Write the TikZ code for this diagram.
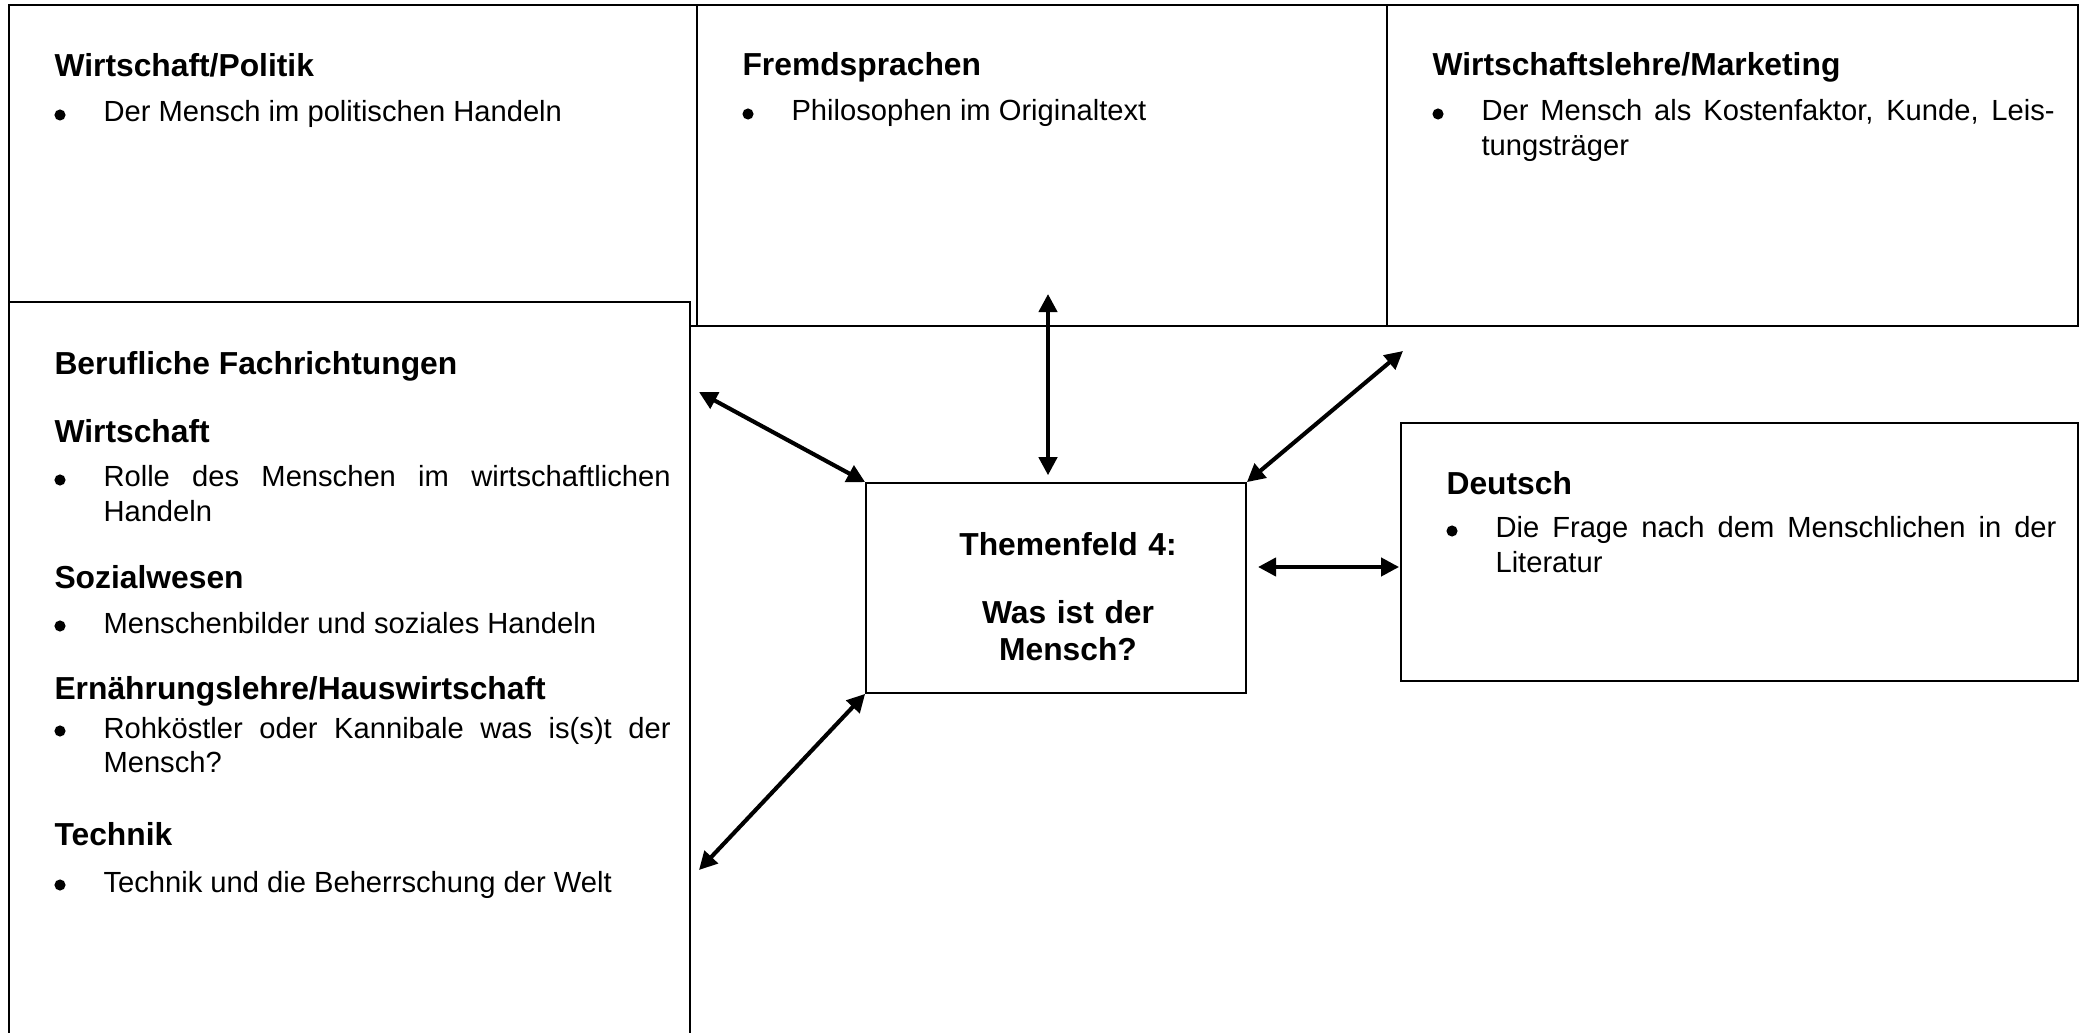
\documentclass[tikz,border=0pt]{standalone}
\usepackage{fontspec}
\setmainfont{Liberation Sans}
\usetikzlibrary{arrows.meta,fit}
\tolerance=10000
\hbadness=10000
\hyphenpenalty=10000
\exhyphenpenalty=10000
\begin{document}
\begin{tikzpicture}[x=0.3774pt,y=-0.3774pt,
  box/.style={draw, line width=0.65pt, inner sep=0pt},
  head/.style={anchor=base west, inner sep=0pt, font=\fontsize{12pt}{14pt}\selectfont\bfseries},
  body/.style={anchor=base west, inner sep=0pt, font=\fontsize{11pt}{13pt}\selectfont},
  bodyj/.style={body, text width=#1, align=justify},
  bul/.style={circle, fill=black, inner sep=0pt, minimum size=4.2pt},
  dbl/.style={line width=1.55pt, {Triangle[length=6.8pt,width=6.8pt]}-{Triangle[length=6.8pt,width=6.8pt]}}
]
\path[use as bounding box] (0,0) rectangle (2080,1033);
\clip (0,0) rectangle (2080,1033);

% top boxes
\coordinate (wp1) at (9,5);     \coordinate (wp2) at (697,326);
\coordinate (fs1) at (697,5);   \coordinate (fs2) at (1387,326);
\coordinate (wl1) at (1387,5);  \coordinate (wl2) at (2078,326);
\node[box, fit=(wp1)(wp2)] (wp) {};
\node[box, fit=(fs1)(fs2)] (fs) {};
\node[box, fit=(wl1)(wl2)] (wl) {};

% Berufliche box (covers bottom of Wirtschaft/Politik)
\coordinate (bf1) at (9,302);   \coordinate (bf2) at (690,1050);
\node[box, fill=white, fit=(bf1)(bf2)] (bf) {};

% centre box and Deutsch box
\coordinate (tf1) at (866,483); \coordinate (tf2) at (1246,693);
\node[box, fit=(tf1)(tf2)] (tf) {};
\coordinate (dt1) at (1401,423); \coordinate (dt2) at (2078,681);
\node[box, fit=(dt1)(dt2)] (dt) {};

% Wirtschaft/Politik
\node[head] (wph) at (54,77) {Wirtschaft/Politik};
\node[bul] (wpb) at (60,115) {};
\node[body] (wpt) at (103,122) {Der Mensch im politischen Handeln};

% Fremdsprachen
\node[head] (fsh) at (742,76) {Fremdsprachen};
\node[bul] (fsb) at (748,114) {};
\node[body] (fst) at (791,121) {Philosophen im Originaltext};

% Wirtschaftslehre/Marketing
\node[head] (wlh) at (1432,76) {Wirtschaftslehre/Marketing};
\node[bul] (wlb) at (1438,114) {};
\node[bodyj=216.3pt] (wlt) at (1481,121) {Der Mensch als Kostenfaktor, Kunde, Leis-\linebreak tungsträger};

% Berufliche Fachrichtungen
\node[head] (bfh) at (54,375) {Berufliche Fachrichtungen};
\node[head] (bwh) at (54,443) {Wirtschaft};
\node[bul] (bwb) at (60,480) {};
\node[bodyj=214pt] (bwt) at (103,487) {Rolle des Menschen im wirtschaftlichen\linebreak Handeln};
\node[head] (bsh) at (54,589) {Sozialwesen};
\node[bul] (bsb) at (60,626) {};
\node[body] (bst) at (103,633) {Menschenbilder und soziales Handeln};
\node[head] (beh) at (54,699) {Ernährungslehre/Hauswirtschaft};
\node[bul] (beb) at (60,731) {};
\node[bodyj=214pt] (bet) at (103,738) {Rohköstler oder Kannibale was is(s)t der\linebreak Mensch?};
\node[head] (bth) at (54,845) {Technik};
\node[bul] (btb) at (60,885) {};
\node[body] (btt) at (103,892) {Technik und die Beherrschung der Welt};

% Themenfeld
\node[anchor=base, inner sep=0pt, font=\fontsize{12pt}{14pt}\selectfont\bfseries,
      text width=120pt, align=center] (tft) at (1068,555)
      {Themenfeld 4:\\[11.7pt]Was ist der\\Mensch?};

% Deutsch
\node[head] (dth) at (1446,495) {Deutsch};
\node[bul] (dtb) at (1452,531) {};
\node[bodyj=211.7pt] (dtt) at (1495,538) {Die Frage nach dem Menschlichen in der\linebreak Literatur};

% connectors
\coordinate (a1) at (699,392);
\coordinate (a2) at (1048,294);
\coordinate (a3) at (1403,351);
\coordinate (a4) at (1258,567);
\coordinate (a5) at (699,870);
\draw[dbl] (a1) -- (tf.north west);
\draw[dbl] (a2) -- ([yshift=2.6pt]a2 |- tf.north);
\draw[dbl] (a3) -- (tf.north east);
\draw[dbl] (a4) -- ([xshift=-0.4pt]a4 -| dt.west);
\draw[dbl] (tf.south west) -- (a5);
\end{tikzpicture}
\end{document}
